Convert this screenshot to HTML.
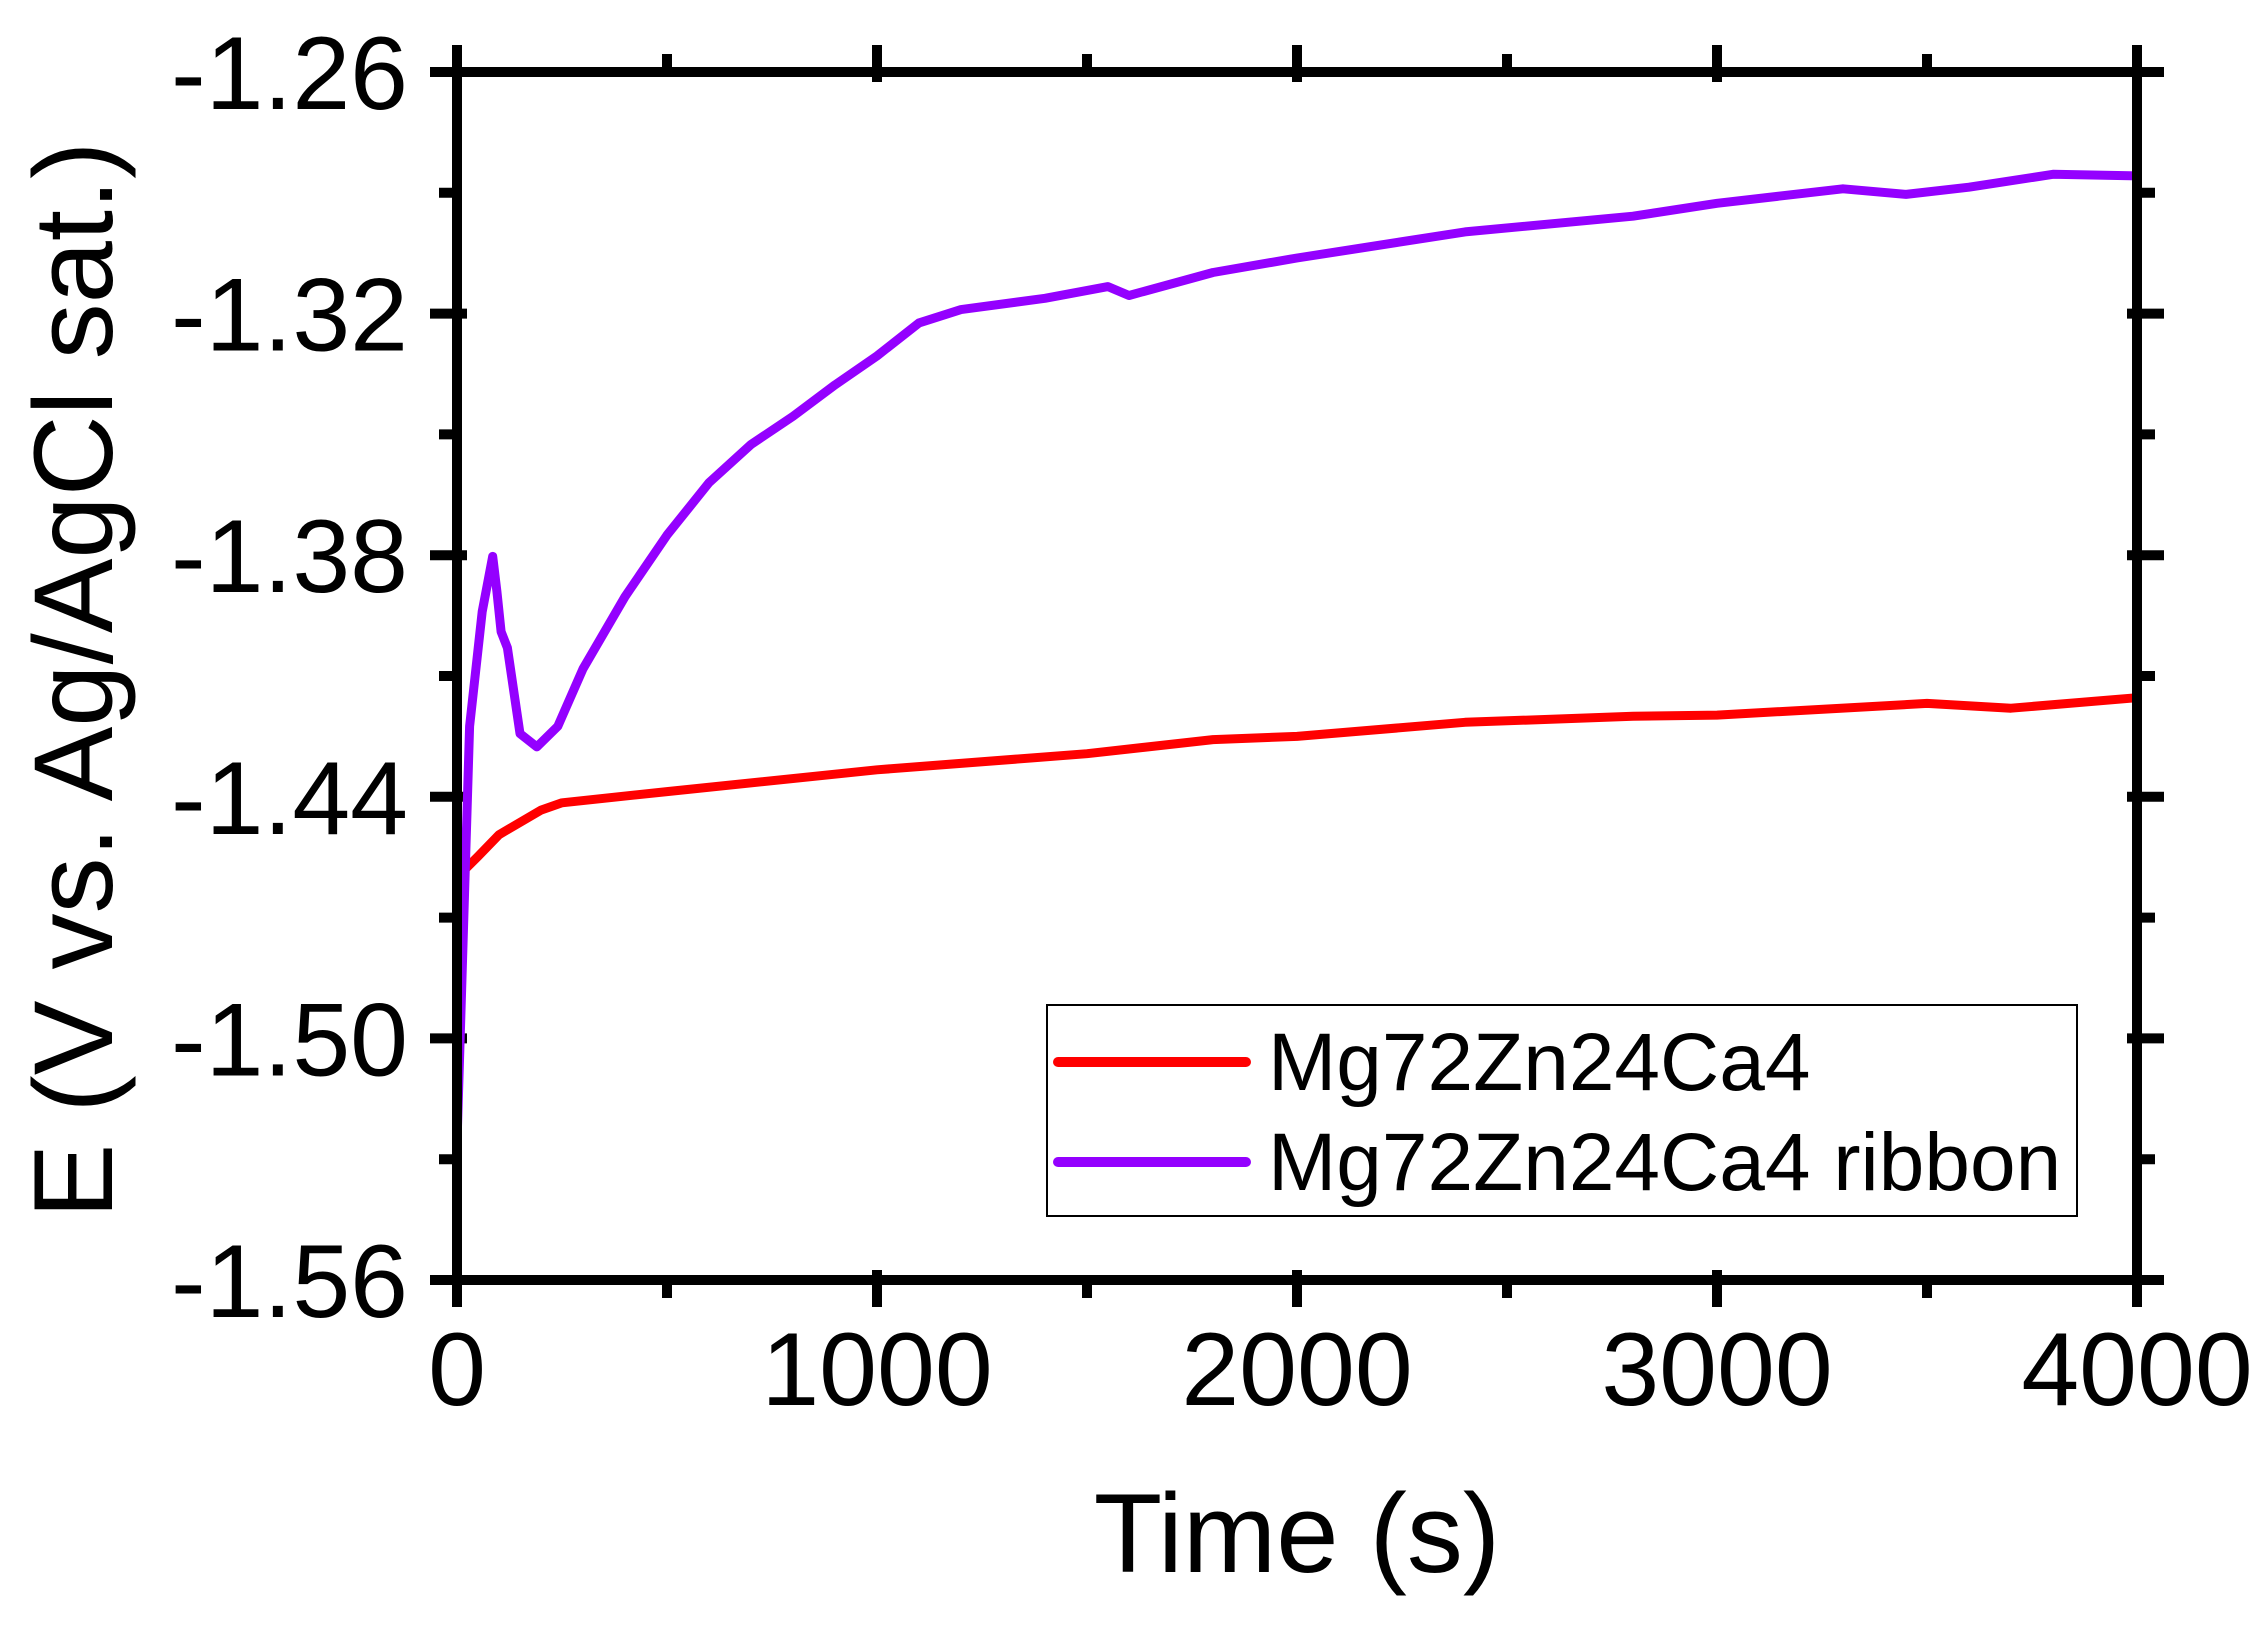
<!DOCTYPE html>
<html><head><meta charset="utf-8"><style>
html,body{margin:0;padding:0;background:#fff;}
svg{display:block;font-family:"Liberation Sans",Arial,sans-serif;}
</style></head><body>
<svg id="chart" width="2266" height="1627" viewBox="0 0 2266 1627" xmlns="http://www.w3.org/2000/svg">
<g id="ticks"></g>
<g id="series"></g>
<rect x="457" y="72" width="1680" height="1208" fill="none" stroke="#000" stroke-width="10"/>
<text x="1297" y="1572" font-size="112" text-anchor="middle">Time (s)</text>
<text transform="translate(112,680) rotate(-90)" font-size="112" text-anchor="middle">E (V vs. Ag/AgCl sat.)</text>
<g>
<rect x="1047" y="1005" width="1030" height="211" fill="#fff" stroke="#000" stroke-width="2"/>
<line x1="1058" y1="1062" x2="1246" y2="1062" stroke="#ff0000" stroke-width="10" stroke-linecap="round"/>
<text x="1268" y="1090" font-size="82">Mg72Zn24Ca4</text>
<line x1="1058" y1="1162" x2="1246" y2="1162" stroke="#9400ff" stroke-width="10" stroke-linecap="round"/>
<text x="1268" y="1190" font-size="82">Mg72Zn24Ca4 ribbon</text>
</g>
</svg>
<script>
const xTicks=[0,1000,2000,3000,4000];
const yTicks=[-1.26,-1.32,-1.38,-1.44,-1.50,-1.56];
const yTickLabels=["-1.26","-1.32","-1.38","-1.44","-1.50","-1.56"];
const redT=[0,50,100,200,250,500,1000,1500,1800,2000,2400,2800,3000,3500,3700,4000];
const redE=[-1.460,-1.4548,-1.4494,-1.4433,-1.4415,-1.4387,-1.4333,-1.4293,-1.4258,-1.425,-1.4215,-1.420,-1.4197,-1.4168,-1.418,-1.4154];
const purT=[0,30,60,85,95,105,120,150,190,240,300,400,500,600,700,800,900,1000,1100,1200,1400,1550,1600,1800,2000,2400,2800,3000,3300,3450,3600,3800,4000];
const purE=[-1.526,-1.4225,-1.394,-1.3803,-1.389,-1.399,-1.403,-1.4243,-1.4276,-1.4225,-1.4082,-1.3903,-1.375,-1.362,-1.3525,-1.3455,-1.3377,-1.3305,-1.3223,-1.319,-1.3162,-1.3133,-1.3155,-1.3098,-1.3062,-1.2997,-1.2958,-1.2926,-1.289,-1.2904,-1.2886,-1.2854,-1.2858];
const X0=457,X1=2137,Y0=72,Y1=1280;
const xs=t=>X0+(t-0)/4000*(X1-X0);
const ys=e=>Y0+(-1.26-e)/0.30*(Y1-Y0);
const NS="http://www.w3.org/2000/svg";
const tg=document.getElementById('ticks'), sg=document.getElementById('series');
function mk(tag,attrs,parent){const el=document.createElementNS(NS,tag);for(const k in attrs)el.setAttribute(k,attrs[k]);parent.appendChild(el);return el;}
xTicks.forEach((t,i)=>{
  const x=xs(t);
  const a=mk('line',{x1:x,y1:Y1-10,x2:x,y2:Y1+27,stroke:'#000','stroke-width':10},tg);
  
  
  const b=mk('line',{x1:x,y1:Y0+10,x2:x,y2:Y0-27,stroke:'#000','stroke-width':10},tg);
  
  
  const l=mk('text',{x:x,y:1405,'font-size':104,'text-anchor':'middle'},tg);
  l.textContent=String(t);
  
  
  if(i<xTicks.length-1){
    const m=xs(t+500);
    const c=mk('line',{x1:m,y1:Y1,x2:m,y2:Y1+18,stroke:'#000','stroke-width':10},tg);
    
    
    const d=mk('line',{x1:m,y1:Y0,x2:m,y2:Y0-18,stroke:'#000','stroke-width':10},tg);
    
    
  }
});
yTicks.forEach((v,i)=>{
  const y=ys(v);
  const a=mk('line',{x1:X0-27,y1:y,x2:X0+10,y2:y,stroke:'#000','stroke-width':10},tg);
  
  
  const b=mk('line',{x1:X1-10,y1:y,x2:X1+27,y2:y,stroke:'#000','stroke-width':10},tg);
  
  
  const l=mk('text',{x:408,y:y+37,'font-size':104,'text-anchor':'end'},tg);
  l.textContent=yTickLabels[i];
  
  
  if(i<yTicks.length-1){
    const m=ys(v-0.03);
    const c=mk('line',{x1:X0-18,y1:m,x2:X0,y2:m,stroke:'#000','stroke-width':10},tg);
    
    
    const d=mk('line',{x1:X1,y1:m,x2:X1+18,y2:m,stroke:'#000','stroke-width':10},tg);
    
    
  }
});
function path(T,E){return T.map((t,i)=>(i?'L':'M')+xs(t).toFixed(1)+','+ys(E[i]).toFixed(1)).join(' ');}
const r=mk('path',{d:path(redT,redE),fill:'none',stroke:'#ff0000','stroke-width':9,'stroke-linejoin':'round'},sg);


const p=mk('path',{d:path(purT,purE),fill:'none',stroke:'#9400ff','stroke-width':9,'stroke-linejoin':'round'},sg);


</script>
</body></html>
